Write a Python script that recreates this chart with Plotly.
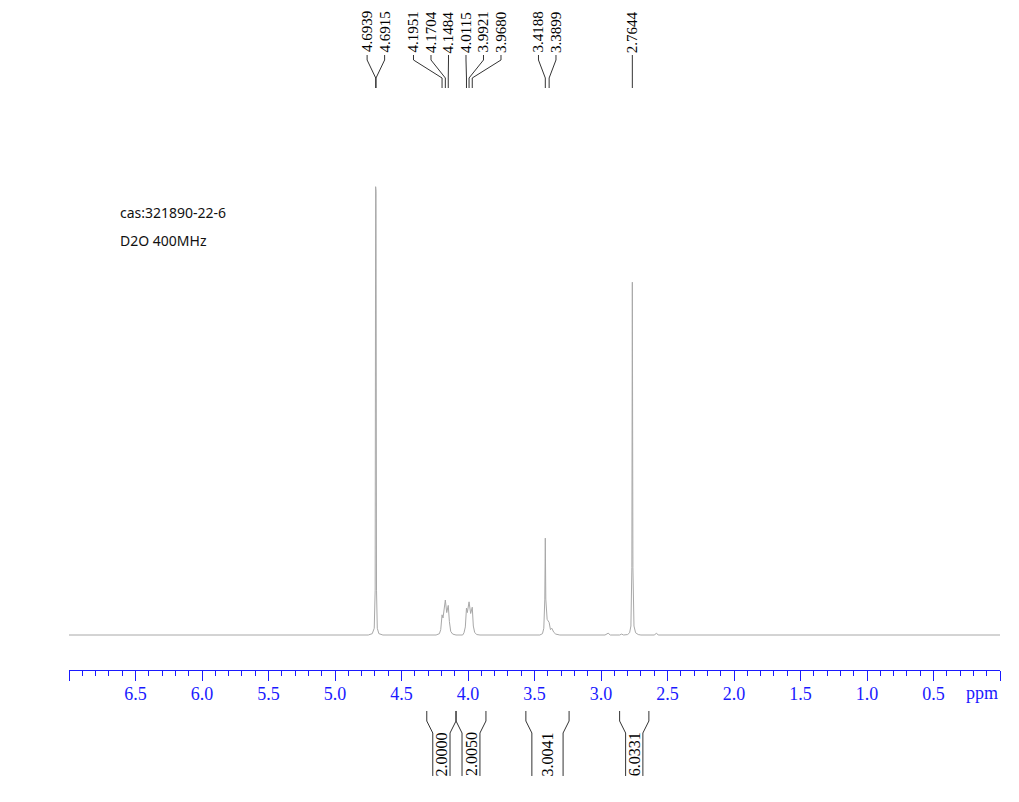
import plotly.graph_objects as go

# spectrum trace, ppm vs relative intensity
spec_ppm = [7.00, 4.75, 4.72, 4.705, 4.698, 4.6945, 4.6915, 4.688, 4.682, 4.67, 4.64,
            4.24, 4.215, 4.205, 4.1951, 4.188, 4.1704, 4.160, 4.1484, 4.140, 4.130, 4.115, 4.09,
            4.04, 4.03, 4.02, 4.0115, 4.005, 3.9921, 3.980, 3.9680, 3.960, 3.950, 3.935, 3.91,
            3.46, 3.44, 3.43, 3.4225, 3.4188, 3.415, 3.405, 3.3899, 3.38, 3.37, 3.355, 3.34, 3.31,
            2.97, 2.946, 2.93, 2.86, 2.845, 2.83,
            2.80, 2.785, 2.775, 2.768, 2.7644, 2.760, 2.752, 2.74, 2.72, 2.70,
            2.60, 2.582, 2.57, 0.00]
spec_int = [0, 0, 0.3, 1.5, 10, 100, 99, 10, 1.5, 0.3, 0,
            0, 0.3, 1.2, 4.5, 3.8, 7.8, 5.0, 6.6, 3.0, 0.8, 0.2, 0,
            0, 0.5, 1.8, 6.0, 5.0, 7.4, 4.8, 6.2, 2.0, 0.6, 0.1, 0,
            0, 0.3, 1.5, 8, 21.6, 8, 3.5, 2.8, 1.2, 1.5, 0.6, 0.2, 0,
            0, 0.4, 0, 0, 0.2, 0,
            0.1, 0.5, 2, 15, 78.7, 15, 2, 0.5, 0.1, 0,
            0, 0.4, 0, 0]

# peak picking labels
peak_ppm = [4.6939, 4.6915, 4.1951, 4.1704, 4.1484, 4.0115, 3.9921, 3.9680,
            3.4188, 3.3899, 2.7644]

# integrals: (from, to) and values
int_from = [4.31, 4.09, 3.565, 2.86]
int_to = [4.09, 3.865, 3.24, 2.64]
int_val = [2.0000, 2.0050, 3.0041, 6.0331]

tick_vals = [7.0, 6.5, 6.0, 5.5, 5.0, 4.5, 4.0, 3.5, 3.0, 2.5, 2.0, 1.5, 1.0, 0.5, 0.0]
tick_text = [""] + ["%.1f" % v for v in tick_vals[1:-1]] + [""]

OFF = 8                      # page body margin
W, H = 1019 - OFF, 802 - OFF
ML, MR = 69 - OFF, 19
X_HI, X_LO = 7.0, 0.0
PXS = (W - ML - MR) / (X_HI - X_LO)   # pixels per ppm
BLUE = "#1a1aff"
GREY = "#333333"
SERIF = "Liberation Serif"


def to_px(ppm):
    # screen column of a ppm value
    return OFF + ML + (X_HI - ppm) * PXS


def to_ppm(px):
    return X_HI - (px - OFF - ML) / PXS


def py(pix):
    # screen row -> paper fraction
    return 1 - (pix - OFF) / H


# y range so that baseline sits at row 635 and the tallest peak at ~187
base_row, top_row = 635, 186.7
ys = (base_row - top_row) / 100.0
y_lo = -(H + OFF - base_row) / ys
y_hi = (base_row - OFF) / ys

fig = go.Figure()
fig.add_trace(go.Scatter(x=spec_ppm, y=spec_int, mode="lines",
                         line=dict(color="#a8a8a8", width=1),
                         hoverinfo="skip", showlegend=False))

# spread peak labels (simple clustering, 17.5 px apart)
gap = 17.5
pk_px = sorted(to_px(p) for p in peak_ppm)
groups = [[p] for p in pk_px]
changed = True
while changed:
    changed = False
    out = []
    for g in groups:
        if out:
            prev = out[-1]
            pc = sum(prev) / len(prev)
            pr = pc + (len(prev) - 1) / 2 * gap
            c = sum(g) / len(g)
            lf = c - (len(g) - 1) / 2 * gap
            if lf - pr < gap:
                out[-1] = prev + g
                changed = True
                continue
        out.append(g)
    groups = out

shapes = []
annotations = []
k = 0
for g in groups:
    c = sum(g) / len(g)
    for i, p in enumerate(g):
        lx = c + (i - (len(g) - 1) / 2) * gap
        path = "M %f,%f L %f,%f L %f,%f L %f,%f" % (
            to_ppm(lx), py(55), to_ppm(lx), py(60),
            to_ppm(p), py(78), to_ppm(p), py(88))
        shapes.append(dict(type="path", path=path, xref="x", yref="paper",
                           line=dict(color=GREY, width=1)))
        annotations.append(dict(x=to_ppm(lx), y=py(32), xref="x", yref="paper",
                                text="%.4f" % peak_ppm[k], textangle=-90,
                                showarrow=False, xanchor="center", yanchor="middle",
                                font=dict(family=SERIF, size=15, color="black")))
        k += 1

# integral brackets
inset = 6 / PXS
for a, b, v in zip(int_from, int_to, int_val):
    for x0, d in ((a, -inset), (b, inset)):
        path = "M %f,%f L %f,%f L %f,%f L %f,%f" % (
            x0, py(711), x0, py(721), x0 + d, py(733), x0 + d, py(776))
        shapes.append(dict(type="path", path=path, xref="x", yref="paper",
                           line=dict(color=GREY, width=1)))
    annotations.append(dict(x=(a + b) / 2, y=py(754), xref="x", yref="paper",
                            text="%.4f" % v, textangle=-90, showarrow=False,
                            xanchor="center", yanchor="middle",
                            font=dict(family=SERIF, size=16, color="black")))

annotations.append(dict(x=to_ppm(982), y=py(693), xref="x", yref="paper",
                        text="ppm", showarrow=False, xanchor="center", yanchor="middle",
                        font=dict(family=SERIF, size=18, color=BLUE)))

# sample info
info_x = to_ppm(118)
annotations.append(dict(x=info_x, y=py(213), xref="x", yref="paper",
                        text="cas:321890-22-6", showarrow=False, xanchor="left",
                        yanchor="middle", font=dict(family="Noto Sans", size=14, color="#111")))
annotations.append(dict(x=info_x, y=py(240), xref="x", yref="paper",
                        text="D2O 400MHz", showarrow=False, xanchor="left",
                        yanchor="middle", font=dict(family="Noto Sans", size=14, color="#111")))

fig.update_layout(
    width=W, height=H,
    margin=dict(l=ML, r=MR, t=0, b=0, autoexpand=False),
    paper_bgcolor="white", plot_bgcolor="white",
    showlegend=False,
    shapes=shapes, annotations=annotations,
    xaxis=dict(range=[X_HI, X_LO], anchor="free", position=py(670),
               showline=True, linecolor=BLUE, linewidth=1,
               ticks="outside", ticklen=10, tickcolor=BLUE, tickwidth=1,
               tickvals=tick_vals, ticktext=tick_text, ticklabelstandoff=-3,
               tickfont=dict(family=SERIF, size=18, color=BLUE),
               minor=dict(dtick=0.1, tick0=0, ticks="outside", ticklen=5,
                          tickcolor=BLUE, tickwidth=1, showgrid=False),
               showgrid=False, zeroline=False),
    yaxis=dict(range=[y_lo, y_hi], visible=False, showgrid=False, zeroline=False),
)

fig.write_html("out.html")
